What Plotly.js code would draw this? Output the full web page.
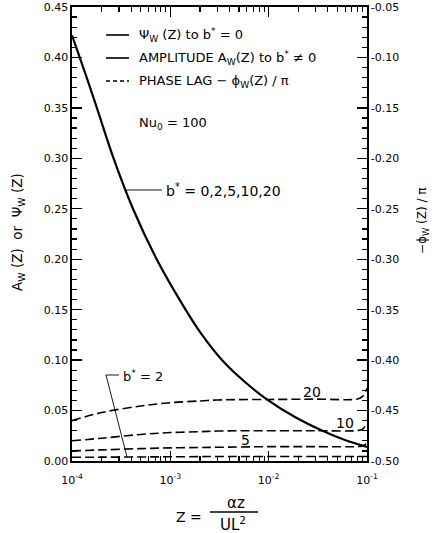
<!DOCTYPE html>
<html>
<head>
<meta charset="utf-8">
<script src="https://cdn.plot.ly/plotly-3.0.1.min.js"></script>
<style>html,body{margin:0;padding:0;background:#fff;}#chart{width:439px;height:533px;}</style>
</head>
<body>
<div id="chart"></div>
<script>
// Amplitude A_w(Z) (same curve for b* = 0,2,5,10,20)
const zAmp = [1e-4, 1.35e-4, 1.79e-4, 2.67e-4, 4.17e-4, 7.31e-4, 1.35e-3, 2.0e-3, 3.35e-3, 5.74e-3, 9.84e-3, 1.85e-2, 3.57e-2, 5.97e-2, 1e-1];
const amplitude = [0.422, 0.3855, 0.350, 0.299, 0.250, 0.1995, 0.154, 0.128, 0.1001, 0.0783, 0.0604, 0.0436, 0.0297, 0.0208, 0.0139];

// Phase lag -phi_w(Z)/pi for several b*
const zPhase = [1e-4, 2e-4, 5e-4, 1e-3, 2e-3, 3e-3, 1e-2, 3e-2, 8e-2, 9e-2, 1e-1];
const phaseB20 = [-0.460, -0.452, -0.4455, -0.4422, -0.4405, -0.4395, -0.439, -0.4387, -0.4385, -0.436, -0.428];
const phaseB10 = [-0.480, -0.4774, -0.4737, -0.4718, -0.471, -0.4703, -0.470, -0.470, -0.4698, -0.4685, -0.462];
const phaseB5  = [-0.490, -0.489, -0.4877, -0.487, -0.4866, -0.4864, -0.4858, -0.4858, -0.4857, -0.485, -0.4825];
const phaseB2  = [-0.4963, -0.4962, -0.496, -0.4958, -0.4957, -0.4955, -0.4955, -0.4955, -0.4955, -0.4955, -0.4955];

// Tick labels
const xTickVals = [1e-4, 1e-3, 1e-2, 1e-1];
const xTickText = ['10<sup>-4</sup>', '10<sup>-3</sup>', '10<sup>-2</sup>', '10<sup>-1</sup>'];
const xMinorVals = [2e-4,3e-4,4e-4,5e-4,6e-4,7e-4,8e-4,9e-4,2e-3,3e-3,4e-3,5e-3,6e-3,7e-3,8e-3,9e-3,2e-2,3e-2,4e-2,5e-2,6e-2,7e-2,8e-2,9e-2];
const yTickVals = [0, 0.05, 0.10, 0.15, 0.20, 0.25, 0.30, 0.35, 0.40, 0.45];
const yTickText = ['0.00','0.05','0.10','0.15','0.20','0.25','0.30','0.35','0.40','0.45'];
const y2TickVals = [-0.50, -0.45, -0.40, -0.35, -0.30, -0.25, -0.20, -0.15, -0.10, -0.05];
const y2TickText = ['-0.50','-0.45','-0.40','-0.35','-0.30','-0.25','-0.20','-0.15','-0.10','-0.05'];

const FONT = 'DejaVu Sans, sans-serif';
const dashStyle = {color: 'black', width: 1.6, dash: '9px,4px', shape: 'spline'};

const traces = [
  {x: zAmp, y: amplitude, type: 'scatter', mode: 'lines', line: {color: 'black', width: 2.2, shape: 'spline'}, yaxis: 'y', showlegend: false},
  {x: zPhase, y: phaseB20, type: 'scatter', mode: 'lines', line: dashStyle, yaxis: 'y2', showlegend: false},
  {x: zPhase, y: phaseB10, type: 'scatter', mode: 'lines', line: dashStyle, yaxis: 'y2', showlegend: false},
  {x: zPhase, y: phaseB5, type: 'scatter', mode: 'lines', line: dashStyle, yaxis: 'y2', showlegend: false},
  {x: zPhase, y: phaseB2, type: 'scatter', mode: 'lines', line: dashStyle, yaxis: 'y2', showlegend: false}
];

function P(px) { return (px - 72) / 295; }
function Q(py) { return (461 - py) / 454; }

const ann = (text, px, py, size, opts) => Object.assign({
  text: text, xref: 'paper', yref: 'paper', x: P(px), y: Q(py),
  showarrow: false, xanchor: 'left', yanchor: 'middle',
  font: {family: FONT, size: size, color: 'black'}
}, opts || {});

const annotations = [
  ann('Ψ<sub>W</sub> (Z) to b<sup>*</sup> = 0', 137, 35, 13),
  ann('AMPLITUDE A<sub>W</sub>(Z) to b<sup>*</sup> ≠ 0', 137, 58, 13),
  ann('PHASE LAG − ϕ<sub>W</sub>(Z) / π', 137, 81, 13),
  ann('Nu<sub>0</sub> = 100', 137, 123, 13),
  ann('b<sup>*</sup> = 0,2,5,10,20', 164, 190, 14),
  ann('b<sup>*</sup> = 2', 121, 376, 13),
  ann('20', 312, 392, 14, {xanchor: 'center'}),
  ann('10', 345, 423, 14, {xanchor: 'center'}),
  ann('5', 245, 440, 14, {xanchor: 'center'}),
  ann('Z =', 189, 517, 14, {xanchor: 'center'}),
  ann('αz', 236, 503, 15, {xanchor: 'center'}),
  ann('UL<sup>2</sup>', 233, 524, 15, {xanchor: 'center'}),
  ann('A<sub>W</sub> (Z)  or  Ψ<sub>W</sub> (Z)', 18, 232, 13.5, {xanchor: 'center', textangle: -90}),
  ann('−ϕ<sub>W</sub> (Z) / π', 423, 220, 12, {xanchor: 'center', textangle: -90})
];

const seg = (x0, y0, x1, y1, w, dash) => ({
  type: 'line', xref: 'paper', yref: 'paper',
  x0: P(x0), y0: Q(y0), x1: P(x1), y1: Q(y1),
  line: {color: 'black', width: w, dash: dash || 'solid'}
});

const shapes = [
  seg(106, 35, 129, 35, 1.6),
  seg(106, 58, 129, 58, 1.6),
  seg(106, 81, 129, 81, 1.6, '4px,3px'),
  seg(126, 190, 162, 190, 0.9),
  seg(106, 375, 119, 375, 0.9),
  seg(106, 375, 127, 457, 0.9),
  seg(210, 512, 258, 512, 1.4)
];

const layout = {
  width: 439, height: 533,
  margin: {l: 72, r: 72, t: 7, b: 72},
  paper_bgcolor: 'white', plot_bgcolor: 'white',
  font: {family: FONT, size: 11, color: 'black'},
  showlegend: false,
  xaxis: {
    type: 'log', range: [-4, -1],
    tickmode: 'array', tickvals: xTickVals, ticktext: xTickText,
    ticks: 'inside', ticklen: 10, tickwidth: 1.3, tickcolor: 'black',
    ticklabelstandoff: 8,
    minor: {tickmode: 'array', tickvals: xMinorVals, ticks: 'inside', ticklen: 5, tickwidth: 1.2, tickcolor: 'black', showgrid: false},
    showline: true, linecolor: 'black', linewidth: 1.6, mirror: 'ticks',
    showgrid: false, zeroline: false,
    tickfont: {family: FONT, size: 11}
  },
  yaxis: {
    range: [0, 0.45],
    tickmode: 'array', tickvals: yTickVals, ticktext: yTickText,
    ticks: 'inside', ticklen: 10, tickwidth: 1.3, tickcolor: 'black',
    minor: {dtick: 0.01, tick0: 0, ticks: 'inside', ticklen: 5, tickwidth: 1.2, tickcolor: 'black', showgrid: false},
    showline: true, linecolor: 'black', linewidth: 1.6,
    showgrid: false, zeroline: false,
    tickfont: {family: FONT, size: 11}
  },
  yaxis2: {
    overlaying: 'y', side: 'right', range: [-0.50, -0.05],
    tickmode: 'array', tickvals: y2TickVals, ticktext: y2TickText,
    ticks: 'inside', ticklen: 10, tickwidth: 1.3, tickcolor: 'black',
    minor: {dtick: 0.01, tick0: -0.5, ticks: 'inside', ticklen: 5, tickwidth: 1.2, tickcolor: 'black', showgrid: false},
    showline: true, linecolor: 'black', linewidth: 1.6,
    showgrid: false, zeroline: false,
    tickfont: {family: FONT, size: 11}
  },
  annotations: annotations,
  shapes: shapes
};

Plotly.newPlot('chart', traces, layout, {displayModeBar: false, staticPlot: true});
</script>
</body>
</html>
